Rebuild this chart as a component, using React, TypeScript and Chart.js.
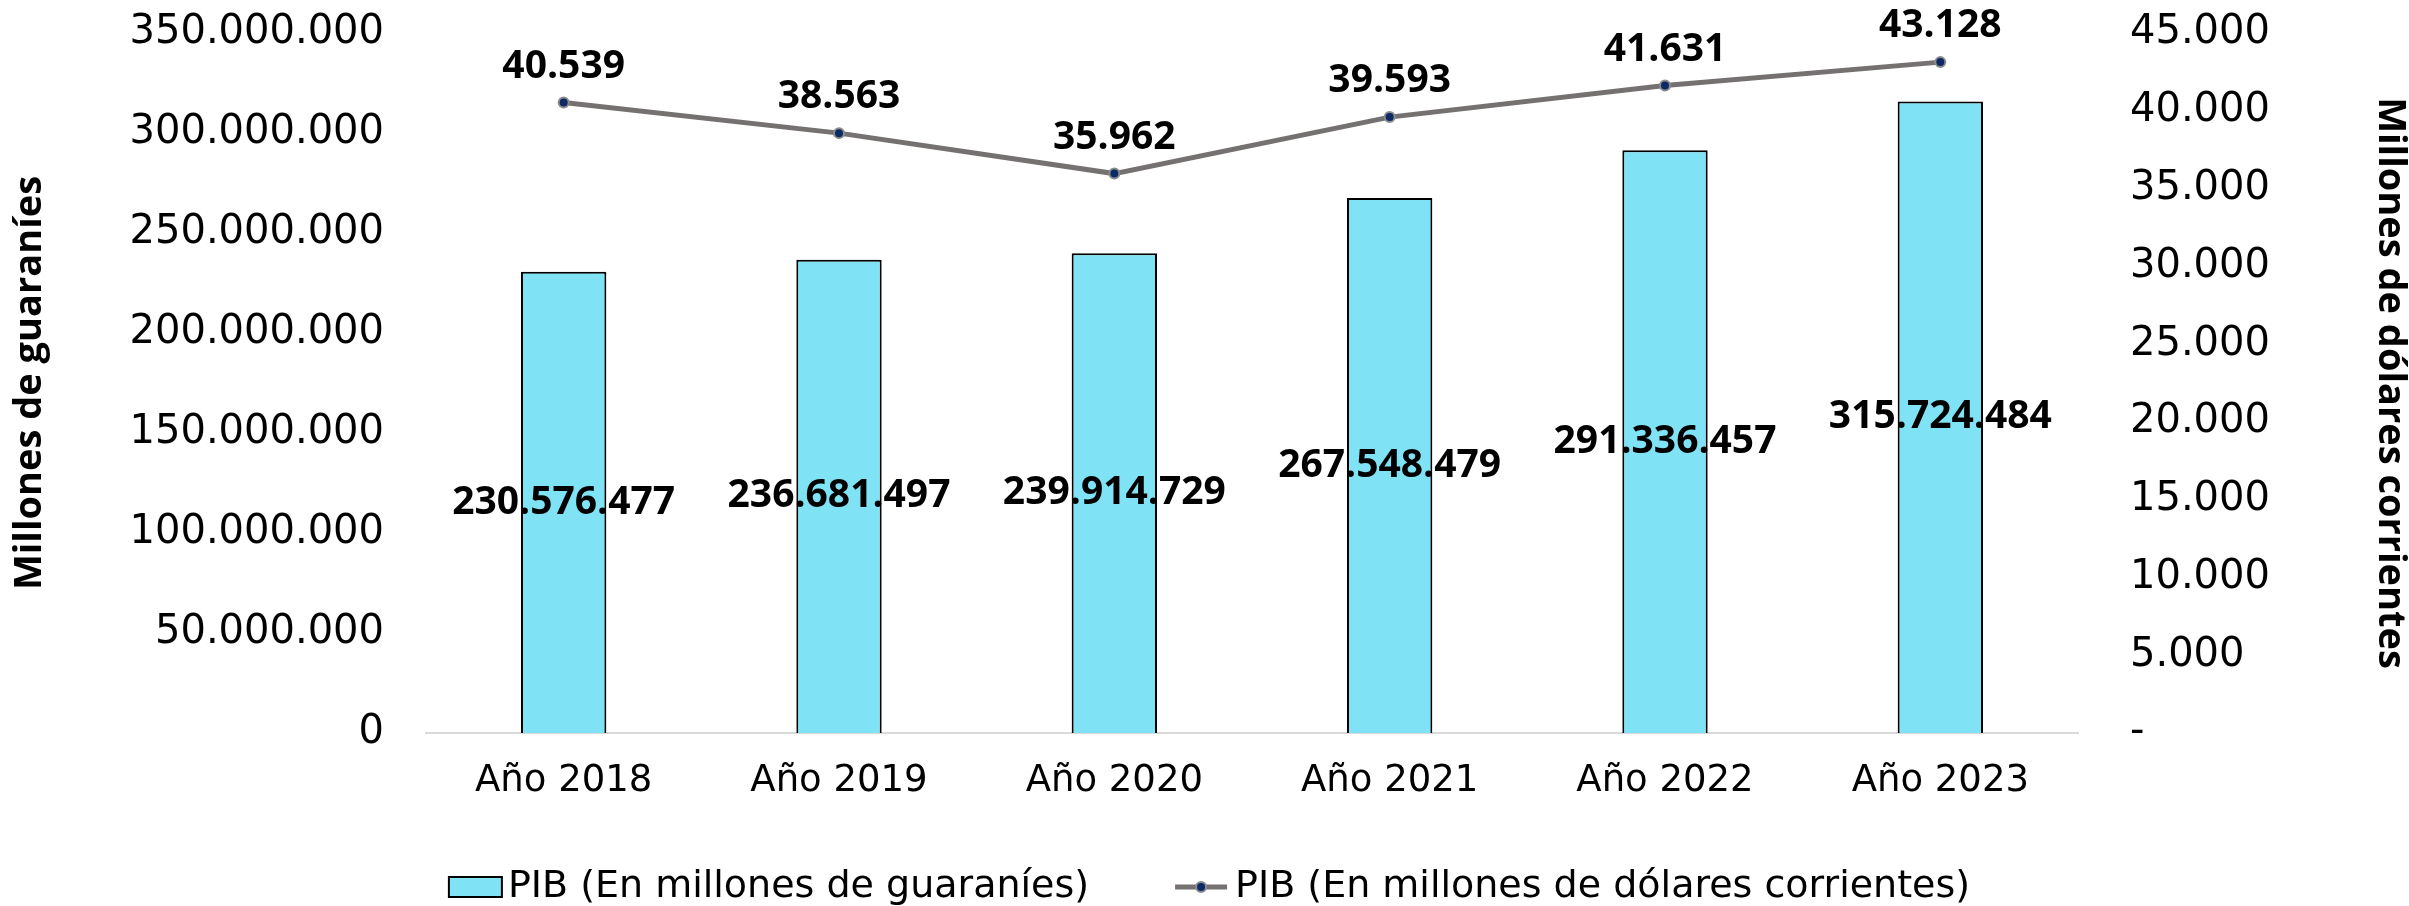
import React, { useEffect, useRef } from "react";
import { Chart, registerables } from "chart.js";

Chart.register(...registerables);

const categories = ["Año 2018", "Año 2019", "Año 2020", "Año 2021", "Año 2022", "Año 2023"];
const pibGuaranies = [230576477, 236681497, 239914729, 267548479, 291336457, 315724484];
const pibDolares = [40539, 38563, 35962, 39593, 41631, 43128];
const leftAxisMax = 350000000;
const leftAxisStep = 50000000;
const rightAxisMax = 45000;
const rightAxisStep = 5000;
const seriesNames = ["PIB (En millones de guaraníes)", "PIB (En millones de dólares corrientes)"];
const leftTitle = "Millones de guaraníes";
const rightTitle = "Millones de dólares corrientes";

const W = 2409;
const H = 906;
const REG = "DejaVu Sans";
const BOLD = "Open Sans";
const BAR_FILL = "#7FE2F5";
const LINE_COLOR = "#767171";
const MARKER_FILL = "#0B2A66";

const fmt = (n: number) => Math.round(n).toString().replace(/\B(?=(\d{3})+(?!\d))/g, ".");

const dataLabels = {
  id: "dataLabels",
  afterDatasetsDraw(chart: any) {
    const ctx = chart.ctx;
    ctx.save();
    ctx.font = `bold 39px '${BOLD}'`;
    ctx.fillStyle = "#000";
    ctx.textAlign = "center";
    ctx.textBaseline = "middle";
    chart.data.datasets.forEach((ds: any, i: number) => {
      const meta = chart.getDatasetMeta(i);
      meta.data.forEach((el: any, j: number) => {
        const v = ds.data[j] as number;
        if (ds.type === "bar") {
          ctx.fillText(fmt(v), el.x, (el.y + el.base) / 2);
        } else {
          ctx.fillText(fmt(v), el.x, el.y - 36);
        }
      });
    });
    ctx.restore();
  },
};

const legendPlugin = {
  id: "customLegend",
  afterDraw(chart: any) {
    const ctx = chart.ctx;
    ctx.save();
    ctx.font = `38px '${REG}'`;
    ctx.textBaseline = "middle";
    ctx.textAlign = "left";
    const y = 887;
    const boxW = 53;
    const boxH = 20;
    const lineW = 52;
    const w1 = ctx.measureText(seriesNames[0]).width;
    const w2 = ctx.measureText(seriesNames[1]).width;
    const total = boxW + 6 + w1 + 86 + lineW + 8 + w2;
    let x = chart.width / 2 + 5 - total / 2;
    ctx.fillStyle = BAR_FILL;
    ctx.fillRect(x, y - boxH / 2, boxW, boxH);
    ctx.strokeStyle = "#000";
    ctx.lineWidth = 2;
    ctx.strokeRect(x, y - boxH / 2, boxW, boxH);
    x += boxW + 6;
    ctx.fillStyle = "#000";
    ctx.fillText(seriesNames[0], x, y);
    x += w1 + 86;
    ctx.strokeStyle = LINE_COLOR;
    ctx.lineWidth = 5;
    ctx.beginPath();
    ctx.moveTo(x, y);
    ctx.lineTo(x + lineW, y);
    ctx.stroke();
    ctx.beginPath();
    ctx.arc(x + lineW / 2, y, 5, 0, Math.PI * 2);
    ctx.fillStyle = MARKER_FILL;
    ctx.fill();
    ctx.lineWidth = 2;
    ctx.strokeStyle = "#8C8C8C";
    ctx.stroke();
    x += lineW + 8;
    ctx.fillStyle = "#000";
    ctx.fillText(seriesNames[1], x, y);
    ctx.restore();
  },
};

export default function App() {
  const ref = useRef<HTMLCanvasElement | null>(null);

  useEffect(() => {
    if (!ref.current) return;
    const xTickFont = { family: REG, size: 37 };
    const yTickFont = { family: REG, size: 40 };
    const titleFont = { family: BOLD, size: 38, weight: "bold" as const, lineHeight: 1 };
    const chart = new Chart(ref.current, {
      data: {
        labels: categories,
        datasets: [
          {
            type: "line",
            label: seriesNames[1],
            data: pibDolares,
            yAxisID: "y1",
            borderColor: LINE_COLOR,
            borderWidth: 5,
            pointRadius: 5,
            pointBackgroundColor: MARKER_FILL,
            pointBorderColor: "#8C8C8C",
            pointBorderWidth: 2,
            tension: 0,
            order: 0,
          },
          {
            type: "bar",
            label: seriesNames[0],
            data: pibGuaranies,
            yAxisID: "y",
            backgroundColor: BAR_FILL,
            borderColor: "#000",
            borderWidth: 2,
            barPercentage: 0.31,
            categoryPercentage: 1,
            order: 1,
          },
        ] as any,
      },
      options: {
        responsive: false,
        animation: false,
        layout: { padding: { top: 33, left: 0, right: 0, bottom: 0 } },
        plugins: { legend: { display: false }, tooltip: { enabled: false } },
        scales: {
          x: {
            grid: { display: false },
            border: { display: true, color: "#D9D9D9", width: 2 },
            ticks: { font: xTickFont, color: "#000", padding: 18, maxRotation: 0 },
            afterFit: (s: any) => {
              s.height = 173;
              s.paddingLeft = 0;
              s.paddingRight = 0;
            },
          },
          y: {
            position: "left",
            min: 0,
            max: leftAxisMax,
            grid: { display: false },
            border: { display: false },
            ticks: {
              stepSize: leftAxisStep,
              color: "#000",
              font: yTickFont,
              padding: 34,
              callback: (v: any) => fmt(Number(v)),
            },
            title: {
              display: true,
              text: leftTitle,
              color: "#000",
              font: titleFont,
              padding: { top: 11, bottom: 0 },
            },
            afterFit: (s: any) => {
              s.width = 426;
              s.paddingTop = 0;
              s.paddingBottom = 0;
            },
          },
          y1: {
            position: "right",
            min: 0,
            max: rightAxisMax,
            grid: { display: false },
            border: { display: false },
            ticks: {
              stepSize: rightAxisStep,
              color: "#000",
              font: yTickFont,
              padding: 44,
              callback: (v: any) => (Number(v) === 0 ? "-" : fmt(Number(v))),
            },
            title: {
              display: true,
              text: rightTitle,
              color: "#000",
              font: titleFont,
              padding: { top: 0, bottom: 0 },
            },
            afterFit: (s: any) => {
              s.width = 331;
              s.paddingTop = 0;
              s.paddingBottom = 0;
            },
          },
        },
      } as any,
      plugins: [dataLabels, legendPlugin],
    });
    return () => chart.destroy();
  }, []);

  return (
    <div style={{ position: "fixed", left: 0, top: 0, width: W, height: H, background: "#fff" }}>
      <canvas ref={ref} width={W} height={H} style={{ width: W, height: H, display: "block" }} />
    </div>
  );
}
